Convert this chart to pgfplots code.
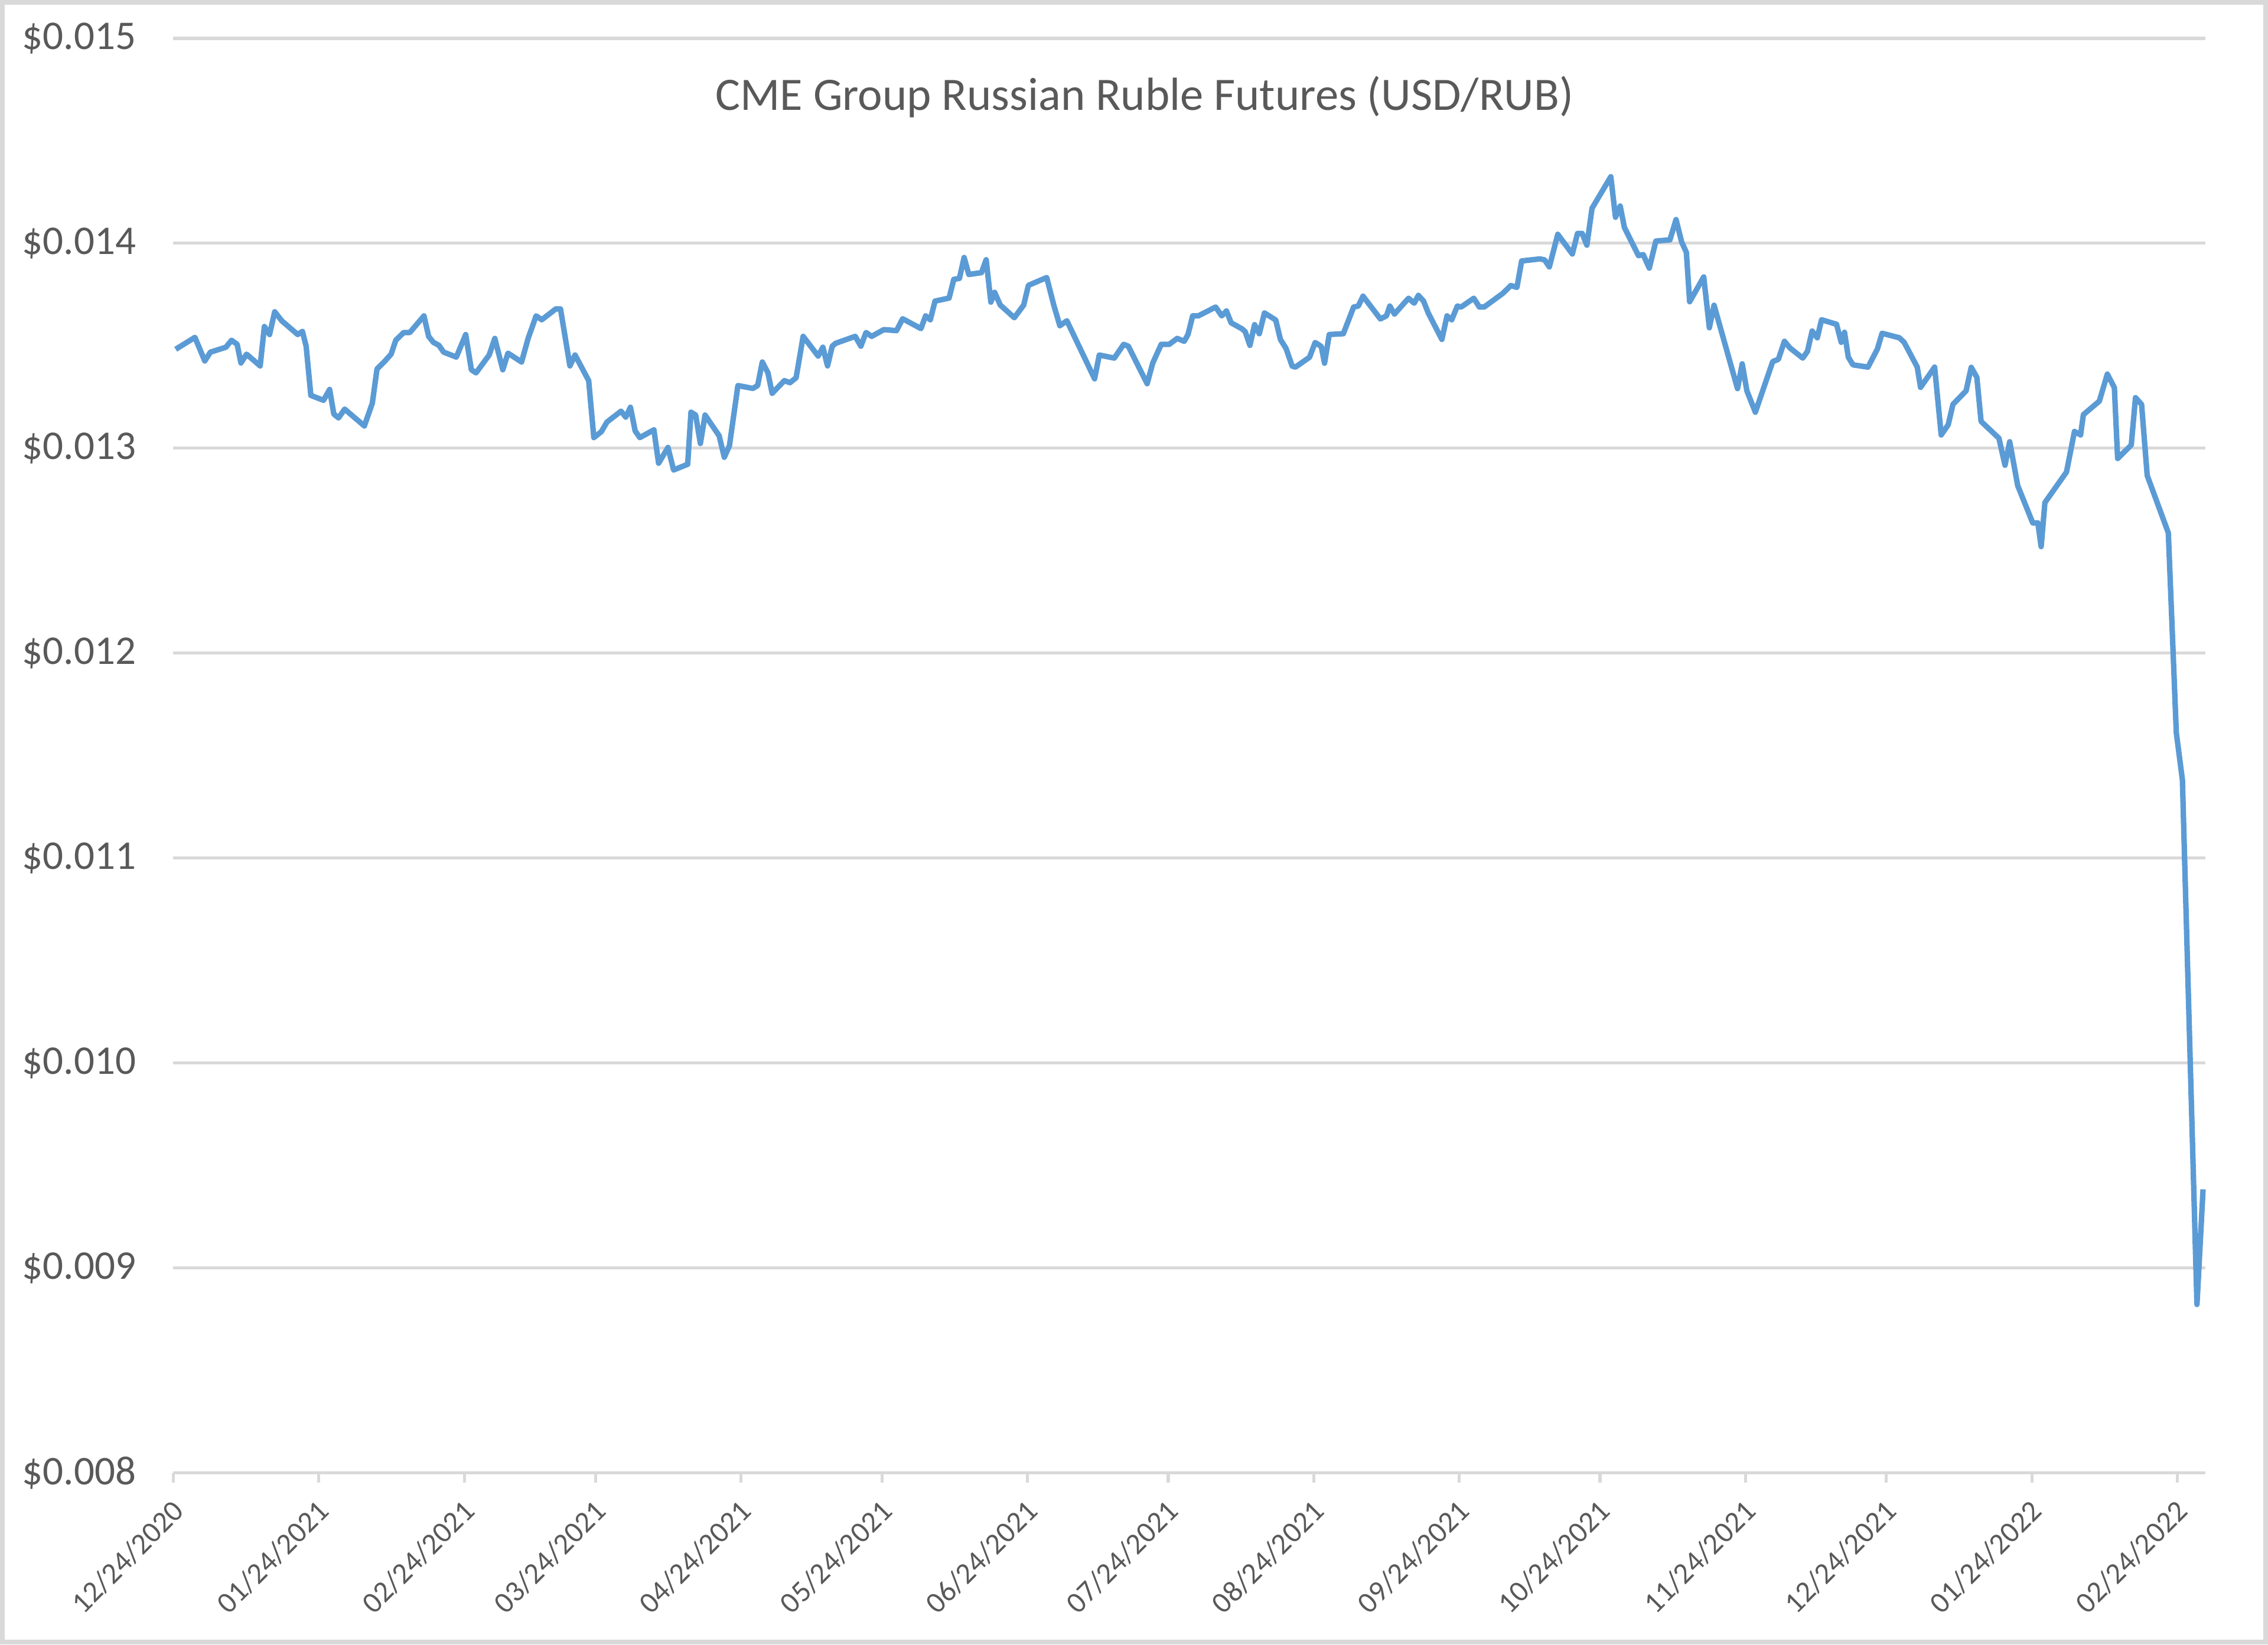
\documentclass[border=0pt]{standalone}
\usepackage{fontspec}
\setmainfont{Carlito}
\usepackage{pgfplots}
\pgfplotsset{compat=1.18}
\definecolor{linec}{HTML}{5B9BD5}
\definecolor{gridc}{HTML}{D9D9D9}
\definecolor{textc}{HTML}{595959}
\begin{document}
\begin{tikzpicture}
\begin{axis}[name=ax, scale only axis, width=14.367cm, height=10.142cm,
  xmin=0, xmax=433, ymin=0.008, ymax=0.015,
  axis lines*=left,
  x axis line style={gridc, line width=0.6pt, -},
  y axis line style={draw=none},
  xtick={0,31,62,90,121,151,182,212,243,274,304,335,365,396,427},
  xticklabels={12/24/2020,01/24/2021,02/24/2021,03/24/2021,04/24/2021,05/24/2021,06/24/2021,07/24/2021,08/24/2021,09/24/2021,10/24/2021,11/24/2021,12/24/2021,01/24/2022,02/24/2022},
  ytick={0.008,0.009,0.010,0.011,0.012,0.013,0.014,0.015},
  yticklabels={\$0.008,\$0.009,\$0.010,\$0.011,\$0.012,\$0.013,\$0.014,\$0.015},
  xtick pos=bottom, tick align=outside,
  major tick length=0.07cm,
  x tick style={gridc, line width=0.6pt},
  y tick style={draw=none},
  ymajorgrids, grid style={gridc, line width=0.6pt},
  yticklabel style={font=\fontsize{8.2}{9}\selectfont, text=textc, xshift=-0.07cm},
  xticklabel style={font=\fontsize{6.0}{7}\selectfont, text=textc, inner sep=0pt, xshift=0.04cm, yshift=-0.16cm, rotate=45, anchor=east},
  clip=false,
]
\addplot[linec, line width=1.1pt, line join=round] table {
x y
0.5 0.013483
4.6 0.013541
6.7 0.013426
7.9 0.013469
11.2 0.013493
12.4 0.013527
13.6 0.013507
14.4 0.013416
15.6 0.013459
18.5 0.013402
19.4 0.013594
20.5 0.013555
21.6 0.013666
23.1 0.013622
26.5 0.013555
27.5 0.013570
28.3 0.013498
29.3 0.013258
32.0 0.013234
33.3 0.013287
34.2 0.013167
35.2 0.013148
36.5 0.013191
40.7 0.013109
42.4 0.013220
43.4 0.013387
44.9 0.013421
46.4 0.013459
47.4 0.013527
49.1 0.013565
50.4 0.013565
53.4 0.013646
54.4 0.013546
55.4 0.013517
56.6 0.013502
57.6 0.013469
60.3 0.013445
62.3 0.013555
63.5 0.013383
64.5 0.013368
67.3 0.013455
68.5 0.013536
70.2 0.013383
71.3 0.013464
74.2 0.013421
75.6 0.013536
77.3 0.013646
78.5 0.013627
81.5 0.013680
82.5 0.013680
84.5 0.013402
85.6 0.013455
88.5 0.013330
89.6 0.013052
91.2 0.013081
92.4 0.013128
95.4 0.013181
96.4 0.013152
97.4 0.013200
98.4 0.013085
99.4 0.013052
102.4 0.013090
103.4 0.012927
105.4 0.013004
106.6 0.012894
109.6 0.012922
110.3 0.013176
111.3 0.013162
112.3 0.013023
113.3 0.013162
116.3 0.013061
117.4 0.012956
118.5 0.013013
120.3 0.013306
123.5 0.013292
124.5 0.013306
125.5 0.013421
126.7 0.013368
127.6 0.013268
130.2 0.013330
131.4 0.013320
132.7 0.013344
134.2 0.013546
137.4 0.013450
138.4 0.013493
139.4 0.013402
140.4 0.013498
141.1 0.013512
145.3 0.013546
146.5 0.013498
147.6 0.013565
148.8 0.013546
151.4 0.013579
154.1 0.013574
155.4 0.013632
159.3 0.013584
160.3 0.013646
161.3 0.013627
162.3 0.013718
165.3 0.013733
166.3 0.013824
167.5 0.013829
168.5 0.013931
169.5 0.013848
172.2 0.013857
173.2 0.013920
174.2 0.013713
175.0 0.013761
176.2 0.013699
179.2 0.013637
181.2 0.013699
182.2 0.013795
186.1 0.013833
187.6 0.013699
188.9 0.013598
190.4 0.013622
196.3 0.013339
197.3 0.013455
200.5 0.013440
202.5 0.013507
203.5 0.013498
207.5 0.013315
208.7 0.013416
210.5 0.013507
212.2 0.013507
213.9 0.013536
215.4 0.013522
216.2 0.013555
217.2 0.013646
218.4 0.013646
222.1 0.013689
223.4 0.013646
224.4 0.013670
225.4 0.013612
227.7 0.013583
228.4 0.013569
229.4 0.013502
230.4 0.013603
231.4 0.013559
232.5 0.013660
234.9 0.013626
235.9 0.013531
237.1 0.013487
238.4 0.013401
239.1 0.013396
242.1 0.013444
243.3 0.013516
244.6 0.013497
245.3 0.013415
246.3 0.013555
249.3 0.013559
251.5 0.013689
252.5 0.013694
253.5 0.013742
257.2 0.013631
258.5 0.013646
259.2 0.013694
260.2 0.013655
263.2 0.013732
264.4 0.013708
265.3 0.013746
266.4 0.013718
267.4 0.013660
270.3 0.013531
271.4 0.013646
272.4 0.013627
273.6 0.013694
274.4 0.013689
277.1 0.013732
278.3 0.013689
279.3 0.013689
283.3 0.013756
285.0 0.013794
286.3 0.013785
287.3 0.013914
291.2 0.013924
292.2 0.013919
293.2 0.013885
295.0 0.014044
298.1 0.013948
299.2 0.014048
300.2 0.014048
301.2 0.013991
302.3 0.014171
306.3 0.014325
307.3 0.014127
308.3 0.014182
309.2 0.014077
312.2 0.013940
313.2 0.013945
314.5 0.013879
315.9 0.014011
318.9 0.014017
320.2 0.014116
321.4 0.014006
322.4 0.013956
323.1 0.013715
326.1 0.013836
327.3 0.013588
328.3 0.013698
333.3 0.013291
334.3 0.013412
335.3 0.013280
337.1 0.013176
340.8 0.013423
342.0 0.013434
343.3 0.013522
344.5 0.013489
347.2 0.013440
348.2 0.013473
349.2 0.013572
350.3 0.013539
351.2 0.013627
354.4 0.013605
355.4 0.013517
356.1 0.013566
356.9 0.013445
357.9 0.013407
361.1 0.013396
363.1 0.013484
364.1 0.013561
367.8 0.013539
368.8 0.013517
371.6 0.013396
372.3 0.013297
375.3 0.013396
376.7 0.013065
378.2 0.013115
379.2 0.013214
382.0 0.013280
383.1 0.013395
384.3 0.013346
385.2 0.013131
389.0 0.013049
390.3 0.012917
391.3 0.013032
393.0 0.012818
396.2 0.012636
397.3 0.012636
398.0 0.012520
398.8 0.012735
403.4 0.012884
405.1 0.013082
406.4 0.013065
407.0 0.013164
410.4 0.013230
412.1 0.013362
413.6 0.013296
414.3 0.012950
417.2 0.013016
418.1 0.013247
419.4 0.013214
420.6 0.012867
425.1 0.012587
426.8 0.011612
428.1 0.011381
431.2 0.008822
432.5 0.009384
};
\end{axis}
\node[font=\fontsize{9.35}{11}\selectfont, text=textc] at ([xshift=6.867cm, yshift=-0.4125cm]ax.north west) {CME Group Russian Ruble Futures (USD/RUB)};
\pgfresetboundingbox
\draw[gridc, line width=1pt] ([xshift=-1.208cm,yshift=-1.196cm]ax.south west) rectangle ([xshift=0.425cm,yshift=0.254cm]ax.north east);
\end{tikzpicture}
\end{document}
